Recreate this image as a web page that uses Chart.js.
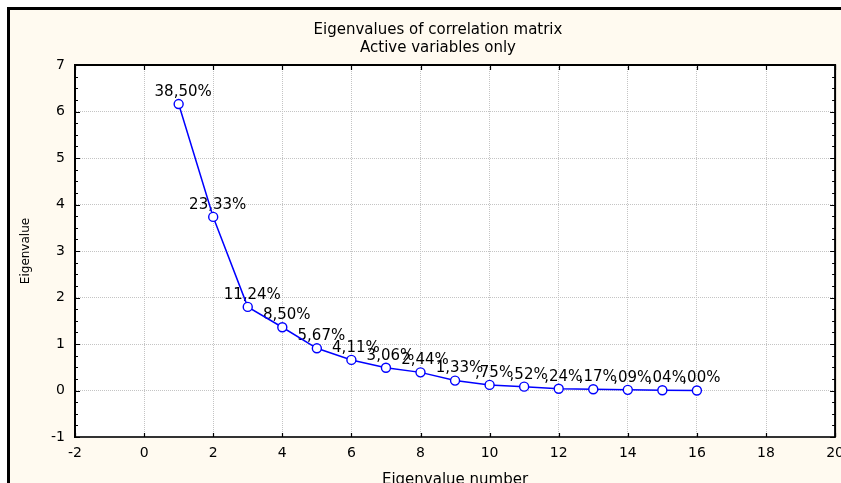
<!doctype html>
<html lang="en">
<head>
    <meta charset="utf-8">
    <title>Eigenvalues of correlation matrix</title>
    <style>
        html, body { margin: 0; padding: 0; background: #fff; overflow: hidden; }
        canvas { display: block; }
    </style>
</head>
<body>
    <canvas id="myChart" width="841" height="483"></canvas>

    <script src="https://cdn.jsdelivr.net/npm/chart.js"></script>
    <script>
        // data (eigenvalue = % of variance * 16 / 100)
        const eigenNumbers = [1, 2, 3, 4, 5, 6, 7, 8, 9, 10, 11, 12, 13, 14, 15, 16];
        const eigenValues = [6.16, 3.733, 1.798, 1.36, 0.907, 0.658, 0.49, 0.39, 0.213, 0.12, 0.083, 0.038, 0.027, 0.014, 0.006, 0.0];
        const percentLabels = ['38,50%', '23,33%', '11,24%', '8,50%', '5,67%', '4,11%', '3,06%', '2,44%',
            '1,33%', ',75%', ',52%', ',24%', ',17%', ',09%', ',04%', ',00%'];
        const titleLines = ['Eigenvalues of correlation matrix', 'Active variables only'];
        const xTicks = { min: -2, max: 20, step: 2 };
        const yTicks = { min: -1, max: 7, step: 1 };

        const FONT = 'DejaVu Sans';

        // frame, cream background and white plot area
        const backgroundPlugin = {
            id: 'background',
            beforeDraw: (chart) => {
                const ctx = chart.ctx;
                const a = chart.chartArea;
                ctx.save();
                ctx.fillStyle = '#ffffff';
                ctx.fillRect(0, 0, chart.width, chart.height);
                ctx.fillStyle = '#fffaf0';
                ctx.fillRect(8, 8, chart.width, chart.height);
                ctx.fillStyle = '#000000';
                ctx.fillRect(7, 7, 3, chart.height);
                ctx.fillRect(7, 7, chart.width, 3);
                ctx.fillStyle = '#ffffff';
                ctx.fillRect(a.left, a.top, a.right - a.left, a.bottom - a.top);
                ctx.restore();
            }
        };

        // two line title, centred like the original
        const titlePlugin = {
            id: 'twoLineTitle',
            afterDraw: (chart) => {
                const ctx = chart.ctx;
                ctx.save();
                ctx.fillStyle = '#000';
                ctx.font = '15px "' + FONT + '"';
                ctx.textAlign = 'center';
                ctx.textBaseline = 'middle';
                ctx.fillText(titleLines[0], 438, 30);
                ctx.fillText(titleLines[1], 438, 48);
                ctx.restore();
            }
        };

        // top / right frame of the plot and the small inward ticks
        const frameTicksPlugin = {
            id: 'frameTicks',
            afterDraw: (chart) => {
                const ctx = chart.ctx;
                const a = chart.chartArea;
                const xs = chart.scales.x;
                const ys = chart.scales.y;
                ctx.save();
                ctx.strokeStyle = '#000';
                ctx.lineWidth = 2;
                ctx.beginPath();
                ctx.moveTo(a.left, a.top);
                ctx.lineTo(a.right, a.top);
                ctx.lineTo(a.right, a.bottom);
                ctx.stroke();

                ctx.lineWidth = 1.2;
                ctx.beginPath();
                for (let v = yTicks.min; v <= yTicks.max + 1e-9; v += 0.25) {
                    const py = Math.round(ys.getPixelForValue(v)) + 0.5;
                    const len = Math.abs(v - Math.round(v)) < 1e-9 ? 5 : 3;
                    ctx.moveTo(a.left, py);
                    ctx.lineTo(a.left + len, py);
                    ctx.moveTo(a.right, py);
                    ctx.lineTo(a.right - len, py);
                }
                for (let v = xTicks.min; v <= xTicks.max + 1e-9; v += xTicks.step) {
                    const px = Math.round(xs.getPixelForValue(v)) + 0.5;
                    ctx.moveTo(px, a.top);
                    ctx.lineTo(px, a.top + 5);
                    ctx.moveTo(px, a.bottom);
                    ctx.lineTo(px, a.bottom - 4);
                }
                ctx.stroke();
                ctx.restore();
            }
        };

        // percentage labels above each point
        const pointLabelPlugin = {
            id: 'pointLabels',
            beforeDatasetsDraw: (chart) => {
                const ctx = chart.ctx;
                const meta = chart.getDatasetMeta(0);
                ctx.save();
                ctx.fillStyle = '#000';
                ctx.font = '15px "' + FONT + '"';
                ctx.textAlign = 'center';
                ctx.textBaseline = 'middle';
                meta.data.forEach((pt, i) => {
                    ctx.fillText(percentLabels[i], pt.x + 4.5, pt.y - 12);
                });
                ctx.restore();
            }
        };

        const data = {
            datasets: [{
                label: 'Eigenvalue',
                data: eigenNumbers.map((n, i) => ({ x: n, y: eigenValues[i] })),
                borderColor: '#0000ff',
                borderWidth: 1.5,
                pointRadius: 4.5,
                pointBorderWidth: 1.4,
                pointBackgroundColor: '#ffffff',
                pointBorderColor: '#0000ff',
                tension: 0,
                clip: false
            }]
        };

        const config = {
            type: 'line',
            data,
            plugins: [backgroundPlugin, pointLabelPlugin, frameTicksPlugin, titlePlugin],
            options: {
                responsive: false,
                animation: false,
                devicePixelRatio: 1,
                layout: {
                    padding: { top: 65, left: 10, right: 4, bottom: 0 }
                },
                plugins: {
                    legend: { display: false },
                    tooltip: { enabled: false },
                    title: { display: false }
                },
                scales: {
                    x: {
                        type: 'linear',
                        min: xTicks.min,
                        max: xTicks.max,
                        ticks: {
                            stepSize: xTicks.step,
                            color: '#000',
                            padding: 8,
                            maxRotation: 0,
                            font: { family: FONT, size: 14 }
                        },
                        grid: {
                            color: '#c4c4c4',
                            lineWidth: 1,
                            drawTicks: false
                        },
                        border: { display: true, color: '#333333', width: 2, dash: [1, 1] },
                        title: {
                            display: true,
                            text: 'Eigenvalue number',
                            color: '#000',
                            font: { family: FONT, size: 15 },
                            padding: { top: 0, bottom: -6 }
                        },
                        afterFit: (scale) => {
                            scale.height = 46;
                            scale.paddingRight = 0;
                            scale.paddingLeft = 0;
                        }
                    },
                    y: {
                        min: yTicks.min,
                        max: yTicks.max,
                        ticks: {
                            stepSize: yTicks.step,
                            color: '#000',
                            padding: 10,
                            font: { family: FONT, size: 14 }
                        },
                        grid: {
                            color: '#c4c4c4',
                            lineWidth: 1,
                            drawTicks: false
                        },
                        border: { display: true, color: '#000', width: 2, dash: [1, 1] },
                        title: {
                            display: true,
                            text: 'Eigenvalue',
                            color: '#000',
                            font: { family: FONT, size: 12 },
                            padding: { top: 9, bottom: 0 }
                        },
                        afterFit: (scale) => {
                            scale.width = 65;
                        }
                    }
                }
            }
        };

        const myChart = new Chart(document.getElementById('myChart'), config);
    </script>
</body>
</html>
